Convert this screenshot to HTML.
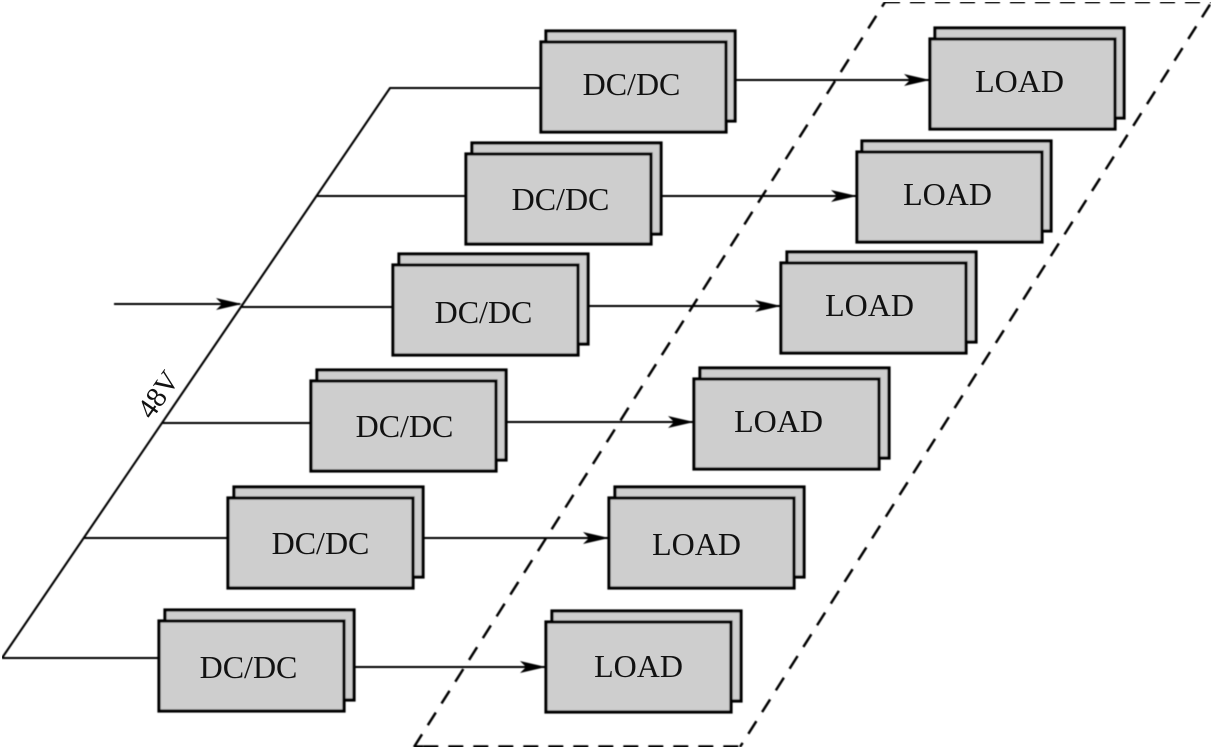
<!DOCTYPE html>
<html>
<head>
<meta charset="utf-8">
<style>
html,body{margin:0;padding:0;background:#fff;width:1214px;height:750px;overflow:hidden}
svg{display:block}
text{font-family:"Liberation Serif",serif;font-size:32px;fill:#111;text-anchor:middle}
.b{fill:#cecece;stroke:#000;stroke-width:3.2}
.l{stroke:#000;stroke-width:2.1;fill:none}
.a{fill:#000;stroke:none}
.d{stroke:#000;stroke-width:2.5;fill:none}
</style>
</head>
<body>
<svg width="1214" height="750" viewBox="0 0 1214 750" xmlns="http://www.w3.org/2000/svg">
<defs><filter id="s" x="0" y="0" width="100%" height="100%"><feGaussianBlur stdDeviation="0.4"/></filter></defs>
<g filter="url(#s)">
<path class="d" d="M885,2H1211" stroke-dasharray="15 10"/>
<path class="d" d="M414,747L885,2" stroke-dasharray="15 10.76"/>
<path class="d" d="M740,747L1211,3" stroke-dasharray="15 10.7" stroke-dashoffset="10.1"/>
<path class="d" d="M423.3,747H741" stroke-dasharray="15 10" style="stroke-width:3.5"/>
<path class="d" d="M414,747H423.3" style="stroke-width:3.5"/>
<path class="l" d="M114,304H240M2,658L390,88H541M2,658H159M316,196H466M240,307H393M162,423H311M84,538H228"/>
<path class="l" d="M735,80H930M661,196H857M587,306H781M505,422H694M423,538H609M355,667H546"/>
<polygon class="a" points="930,80 904,74 910,80 904,86"/>
<polygon class="a" points="857,196 831,190 837,196 831,202"/>
<polygon class="a" points="781,306 755,300 761,306 755,312"/>
<polygon class="a" points="694,422 668,416 674,422 668,428"/>
<polygon class="a" points="609,538 583,532 589,538 583,544"/>
<polygon class="a" points="546,667 520,661 526,667 520,673"/>
<polygon class="a" points="242,304 216,298 222,304 216,310"/>
<rect class="b" x="546" y="31" width="189" height="90"/><rect class="b" x="541" y="42" width="185" height="90"/>
<rect class="b" x="472" y="143" width="189" height="91"/><rect class="b" x="466" y="154" width="185" height="90"/>
<rect class="b" x="399" y="254" width="189" height="90"/><rect class="b" x="393" y="265" width="185" height="90"/>
<rect class="b" x="317" y="370" width="189" height="90"/><rect class="b" x="311" y="381" width="185" height="90"/>
<rect class="b" x="234" y="487" width="189" height="90"/><rect class="b" x="228" y="498" width="185" height="90"/>
<rect class="b" x="165" y="610" width="189" height="90"/><rect class="b" x="159" y="621" width="185" height="90"/>
<rect class="b" x="935" y="28" width="189" height="90"/><rect class="b" x="930" y="39" width="185" height="90"/>
<rect class="b" x="862" y="141" width="189" height="90"/><rect class="b" x="857" y="152" width="185" height="90"/>
<rect class="b" x="787" y="252" width="189" height="90"/><rect class="b" x="781" y="263" width="185" height="90"/>
<rect class="b" x="700" y="368" width="189" height="90"/><rect class="b" x="694" y="379" width="185" height="90"/>
<rect class="b" x="615" y="487" width="189" height="90"/><rect class="b" x="609" y="498" width="185" height="90"/>
<rect class="b" x="552" y="611" width="189" height="90"/><rect class="b" x="546" y="622" width="185" height="90"/>
</g>
<text x="631.5" y="95">DC/DC</text>
<text x="560.5" y="210">DC/DC</text>
<text x="483.5" y="323">DC/DC</text>
<text x="404.5" y="437">DC/DC</text>
<text x="320.5" y="554">DC/DC</text>
<text x="248.5" y="678">DC/DC</text>
<text x="1019.5" y="92">LOAD</text>
<text x="947.5" y="205">LOAD</text>
<text x="869.5" y="316">LOAD</text>
<text x="778.5" y="432">LOAD</text>
<text x="696.5" y="555">LOAD</text>
<text x="638.5" y="677">LOAD</text>
<text transform="translate(166,400) rotate(-55)" style="font-size:29px">48V</text>
</svg>
</body>
</html>
